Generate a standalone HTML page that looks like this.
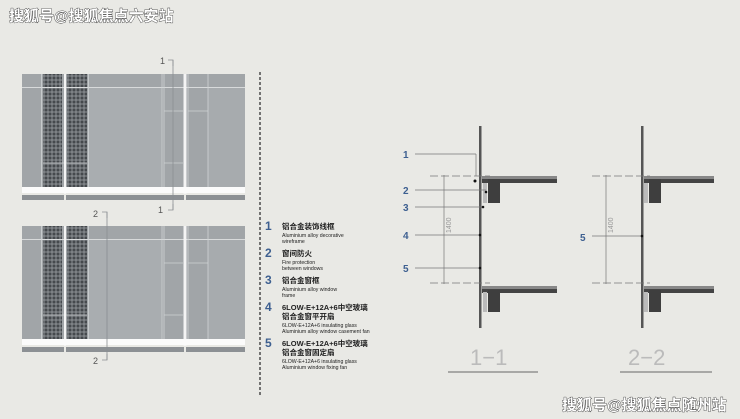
<!DOCTYPE html>
<html><head><meta charset="utf-8"><style>
html,body{margin:0;padding:0;background:#e9e9e5;}
svg{display:block}
text{font-family:"Liberation Sans","Noto Sans CJK SC",sans-serif;}
</style></head><body>
<svg width="740" height="419" viewBox="0 0 740 419" xmlns="http://www.w3.org/2000/svg">
<defs>
<pattern id="perf" width="4" height="4" patternUnits="userSpaceOnUse">
<rect width="4" height="4" fill="#7e8286"/><circle cx="2" cy="2" r="1.5" fill="#45494d"/>
</pattern>
<g id="elev">
<rect x="22" y="74" width="223" height="113" fill="#a1a5a8"/>
<rect x="89" y="87" width="73" height="100" fill="#a9adb0"/>
<rect x="208" y="87" width="37" height="100" fill="#a7abae"/>
<rect x="43" y="74" width="19" height="113" fill="url(#perf)"/>
<rect x="67" y="74" width="20" height="113" fill="url(#perf)"/>
<line x1="22" y1="87.5" x2="245" y2="87.5" stroke="#d8dadb" stroke-width="1"/>
<g stroke="#d0d3d5" stroke-width="0.8">
<line x1="41.5" y1="74" x2="41.5" y2="187"/><line x1="88.5" y1="74" x2="88.5" y2="187"/>
<line x1="162" y1="74" x2="162" y2="187"/><line x1="164" y1="74" x2="164" y2="187"/>
<line x1="188" y1="74" x2="188" y2="187"/><line x1="208" y1="74" x2="208" y2="187"/>
<line x1="164" y1="111" x2="183" y2="111"/><line x1="164" y1="163" x2="183" y2="163"/>
<line x1="188" y1="111" x2="208" y2="111"/><line x1="43" y1="163" x2="87" y2="163"/>
</g>
<rect x="64" y="74" width="2" height="120" fill="#f4f4f4"/>
<rect x="183.5" y="74" width="3" height="120" fill="#f4f4f4"/>
<rect x="22" y="187" width="223" height="6" fill="#fbfbfb"/>
<rect x="22" y="195" width="223" height="5" fill="#8c9094"/>
<rect x="64" y="194" width="2" height="7" fill="#e9e9e5"/><rect x="184" y="194" width="2" height="7" fill="#e9e9e5"/>
</g>
</defs>
<use href="#elev"/>
<use href="#elev" y="152"/>
<g stroke="#8a8e92" stroke-width="0.8" fill="none">
<line x1="173" y1="60" x2="173" y2="210"/>
<polyline points="168,60 173,60 173,66"/><polyline points="168,210 173,210 173,204"/>
<line x1="107" y1="212" x2="107" y2="360"/>
<polyline points="102,212 107,212 107,218"/><polyline points="102,360 107,360 107,354"/>
</g>
<g font-size="9" fill="#555">
<text x="160" y="64">1</text><text x="158" y="213">1</text>
<text x="93" y="217">2</text><text x="93" y="364">2</text>
</g>
<line x1="260" y1="72" x2="260" y2="396" stroke="#333" stroke-width="1.3" stroke-dasharray="3,2"/>
<g fill="#222">
<g font-size="12" font-weight="bold" fill="#3d5f90">
<text x="265" y="230">1</text><text x="265" y="257">2</text><text x="265" y="284">3</text><text x="265" y="311">4</text><text x="265" y="347">5</text>
</g>
<g font-size="7.5" font-weight="bold">
<text x="282" y="229">铝合金装饰线框</text>
<text x="282" y="256">窗间防火</text>
<text x="282" y="283">铝合金窗框</text>
<text x="282" y="310">6LOW-E+12A+6中空玻璃</text><text x="282" y="319">铝合金窗平开扇</text>
<text x="282" y="346">6LOW-E+12A+6中空玻璃</text><text x="282" y="355">铝合金窗固定扇</text>
</g>
<g font-size="5.2" font-family="Liberation Serif,serif">
<text x="282" y="237">Aluminium alloy decorative</text><text x="282" y="243">wireframe</text>
<text x="282" y="264">Fire protection</text><text x="282" y="270">between windows</text>
<text x="282" y="291">Aluminium alloy window</text><text x="282" y="297">frame</text>
<text x="282" y="327">6LOW-E+12A+6 insulating glass</text><text x="282" y="333">Aluminium alloy window casement fan</text>
<text x="282" y="363">6LOW-E+12A+6 insulating glass</text><text x="282" y="369">Aluminium window fixing fan</text>
</g>
</g>
<g>
<rect x="479" y="126" width="2.5" height="202" fill="#555"/>
<rect x="482" y="176" width="75" height="7" fill="#444"/><rect x="482" y="176" width="75" height="3" fill="#888"/>
<rect x="488" y="179" width="12" height="24" fill="#3e3e3e"/>
<rect x="482" y="286" width="75" height="7" fill="#444"/><rect x="482" y="286" width="75" height="3" fill="#888"/>
<rect x="488" y="290" width="12" height="22" fill="#3e3e3e"/>
<rect x="483" y="183" width="4" height="20" fill="#bbb"/><rect x="483" y="292" width="4" height="20" fill="#bbb"/>
<g stroke="#777" stroke-width="0.7" fill="none">
<line x1="430" y1="176" x2="490" y2="176" stroke-dasharray="8,3"/>
<line x1="430" y1="283" x2="490" y2="283" stroke-dasharray="8,3"/>
<line x1="444" y1="175" x2="444" y2="284"/>
<line x1="415" y1="154" x2="476" y2="154"/><polyline points="476,154 476,176"/>
<line x1="415" y1="190" x2="486" y2="190"/>
<line x1="415" y1="207" x2="482" y2="207"/>
<line x1="415" y1="235" x2="480" y2="235"/>
<line x1="415" y1="268" x2="480" y2="268"/>
</g>
<text x="438" y="240" font-size="7" fill="#999" transform="rotate(-90 441 230)">1400</text>
<g fill="#111"><circle cx="475" cy="181" r="1.5"/><circle cx="486" cy="192" r="1.3"/><circle cx="483" cy="207" r="1.3"/><circle cx="480" cy="235" r="1.3"/><circle cx="480" cy="268" r="1.3"/></g>
<g font-size="10" font-weight="bold" fill="#3d5f90">
<text x="403" y="158">1</text><text x="403" y="194">2</text><text x="403" y="211">3</text><text x="403" y="239">4</text><text x="403" y="272">5</text>
</g>
<text x="470" y="365" font-size="22" fill="#bbb">1−1</text>
<line x1="448" y1="372" x2="538" y2="372" stroke="#666" stroke-width="1"/>
</g>
<g>
<rect x="641" y="126" width="2.5" height="202" fill="#555"/>
<rect x="644" y="176" width="70" height="7" fill="#444"/><rect x="644" y="176" width="70" height="3" fill="#888"/>
<rect x="649" y="179" width="12" height="24" fill="#3e3e3e"/>
<rect x="644" y="286" width="70" height="7" fill="#444"/><rect x="644" y="286" width="70" height="3" fill="#888"/>
<rect x="649" y="290" width="12" height="22" fill="#3e3e3e"/>
<rect x="644" y="183" width="4" height="20" fill="#bbb"/><rect x="644" y="292" width="4" height="20" fill="#bbb"/>
<g stroke="#777" stroke-width="0.7" fill="none">
<line x1="592" y1="176" x2="650" y2="176" stroke-dasharray="8,3"/>
<line x1="592" y1="283" x2="650" y2="283" stroke-dasharray="8,3"/>
<line x1="606" y1="175" x2="606" y2="284"/>
<line x1="592" y1="236" x2="642" y2="236"/>
</g>
<circle cx="642" cy="236" r="1.3" fill="#111"/>
<text x="600" y="240" font-size="7" fill="#999" transform="rotate(-90 603 230)">1400</text>
<text x="580" y="241" font-size="10" font-weight="bold" fill="#3d5f90">5</text>
<text x="628" y="365" font-size="22" fill="#bbb">2−2</text>
<line x1="620" y1="372" x2="712" y2="372" stroke="#666" stroke-width="1"/>
</g>
<g font-size="15" font-weight="bold" fill="#fff" stroke="#333" stroke-width="0.8" paint-order="stroke">
<text x="9" y="21" font-family="Noto Sans CJK SC,sans-serif">搜狐号@搜狐焦点六安站</text>
<text x="562" y="410" font-family="Noto Sans CJK SC,sans-serif">搜狐号@搜狐焦点随州站</text>
</g>
</svg>
</body></html>
